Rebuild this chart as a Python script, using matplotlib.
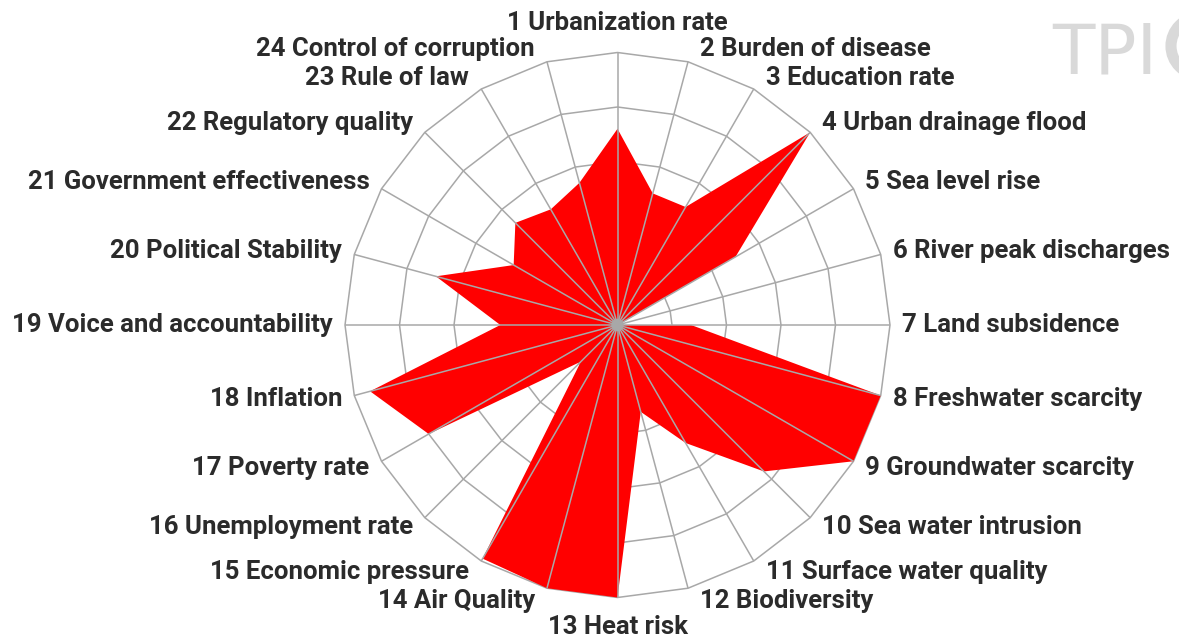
import numpy as np
import matplotlib
matplotlib.use("Agg")
import matplotlib.pyplot as plt
from matplotlib.patches import Polygon, Circle, Ellipse

labels = [
    "1 Urbanization rate", "2 Burden of disease", "3 Education rate",
    "4 Urban drainage flood", "5 Sea level rise", "6 River peak discharges",
    "7 Land subsidence", "8 Freshwater scarcity", "9 Groundwater scarcity",
    "10 Sea water intrusion", "11 Surface water quality", "12 Biodiversity",
    "13 Heat risk", "14 Air Quality", "15 Economic pressure",
    "16 Unemployment rate", "17 Poverty rate", "18 Inflation",
    "19 Voice and accountability", "20 Political Stability",
    "21 Government effectiveness", "22 Regulatory quality",
    "23 Rule of law", "24 Control of corruption",
]
values = [0.72, 0.50, 0.50, 1.00, 0.50, 0.00, 0.27, 1.00, 1.00, 0.76, 0.50, 0.33,
          1.00, 1.00, 0.99, 0.19, 0.80, 0.94, 0.43, 0.69, 0.44, 0.53, 0.49, 0.54]
rings = [0.2, 0.4, 0.6, 0.8, 1.0]

W, H = 1179, 637
cx, cy = 617.5, 312.0   # centre in px from bottom-left
R = 272.5

fig = plt.figure(figsize=(W / 100, H / 100), dpi=100)
ax = fig.add_axes([0, 0, 1, 1])
ax.set_xlim(-cx / R, (W - cx) / R)
ax.set_ylim(-cy / R, (H - cy) / R)
ax.axis("off")

n = len(labels)
ang = np.pi / 2 - np.arange(n) * 2 * np.pi / n
ux, uy = np.cos(ang), np.sin(ang)

grid_c = "#a8a8a8"
lw = 1.1
# rings (under the fill)
for r in rings:
    ax.add_patch(Polygon(np.column_stack([r * ux, r * uy]), closed=True,
                         fill=False, edgecolor=grid_c, lw=lw, zorder=1))
# data polygon
v = np.array(values)
ax.add_patch(Polygon(np.column_stack([v * ux, v * uy]), closed=True,
                     facecolor="#ff0000", edgecolor="none", zorder=2))
# spokes (over the fill)
for i in range(n):
    ax.plot([0, ux[i]], [0, uy[i]], color=grid_c, lw=lw, zorder=3,
            solid_capstyle="butt")
ax.add_patch(Circle((0, 0), 5.5 / R, color=grid_c, zorder=4))

txt_c = "#2b2b2b"
fs = 18.5
font = "Roboto"
off = 12 / R
for i, lab in enumerate(labels):
    x, y = ux[i], uy[i]
    if i == 0:
        ax.text(0, 1 + 29 / R, lab, ha="center", va="center", fontsize=fs,
                fontweight="bold", color=txt_c, family=font)
    elif i == 12:
        ax.text(0, -1 - 29 / R, lab, ha="center", va="center", fontsize=fs,
                fontweight="bold", color=txt_c, family=font)
    else:
        dy = 13 * np.sin(ang[i]) / R
        if x > 0:
            ax.text(x + off, y + dy, lab, ha="left", va="center", fontsize=fs,
                    fontweight="bold", color=txt_c, family=font)
        else:
            ax.text(x - off, y + dy, lab, ha="right", va="center", fontsize=fs,
                    fontweight="bold", color=txt_c, family=font)

# watermark logo (top right)
fig.text(1052 / W, 1 - 73 / H, "TPI", ha="left", va="baseline",
         fontsize=50, color="#d9d9d9",
         family=["DejaVu Sans"], fontweight="normal")
fig.patches.append(Ellipse((1200 / W, 1 - 46 / H), 58 / W, 58 / H,
                           transform=fig.transFigure, facecolor="none",
                           edgecolor="#d9d9d9", lw=8))

fig.savefig("out.png", dpi=100)
